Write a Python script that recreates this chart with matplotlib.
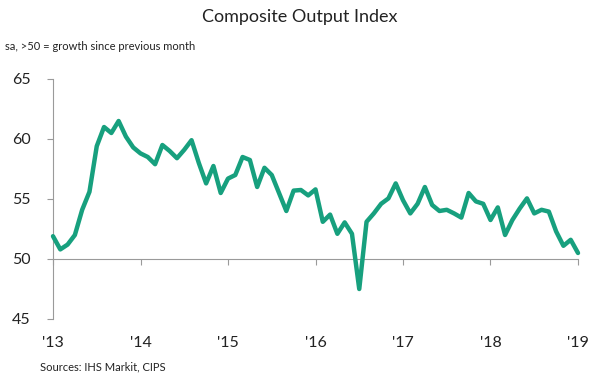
import matplotlib
matplotlib.use("Agg")
import matplotlib.pyplot as plt
import matplotlib.transforms as mtransforms
import numpy as np

plt.rcParams['font.family'] = ['Lato', 'DejaVu Sans']

# Monthly composite output index, Jan 2013 .. Jan 2019
values = [51.9, 50.8, 51.2, 52.0, 54.1, 55.6, 59.4, 61.0, 60.5, 61.5, 60.2, 59.3,
          58.8, 58.5, 57.9, 59.5, 59.0, 58.4, 59.1, 59.9, 58.0, 56.3, 57.75, 55.5,
          56.7, 57.0, 58.5, 58.25, 56.0, 57.6, 57.0, 55.5, 54.0, 55.7, 55.75, 55.3,
          55.8, 53.1, 53.7, 52.1, 53.05, 52.1, 47.5, 53.1, 53.8, 54.6, 55.05, 56.3,
          54.9, 53.8, 54.6, 56.0, 54.5, 54.0, 54.1, 53.8, 53.45, 55.5, 54.8, 54.6,
          53.25, 54.3, 52.0, 53.25, 54.2, 55.05, 53.8, 54.1, 53.95, 52.3, 51.1, 51.6,
          50.5]
year_labels = ["'13", "'14", "'15", "'16", "'17", "'18", "'19"]
y_ticks = [45, 50, 55, 60, 65]

title = "Composite Output Index"
subtitle = "sa, >50 = growth since previous month"
source = "Sources: IHS Markit, CIPS"

line_color = "#17a07e"
axis_color = "#9a9a9a"
text_color = "#222222"

fig = plt.figure(figsize=(6.0, 3.78), dpi=100)
fig.patch.set_facecolor("white")
ax = fig.add_axes([53/600, 1-319/378, (578-53)/600, (319-79)/378])

x = np.arange(len(values))
ax.plot(x, values, color=line_color, lw=3.2, solid_joinstyle='round',
        solid_capstyle='round', zorder=3, clip_on=False)

ax.set_xlim(0, 72)
ax.set_ylim(45, 65)

for s in ['top', 'right']:
    ax.spines[s].set_visible(False)
ax.spines['left'].set_color(axis_color)
ax.spines['left'].set_linewidth(0.8)
ax.spines['bottom'].set_position(('data', 50))
ax.spines['bottom'].set_color(axis_color)
ax.spines['bottom'].set_linewidth(0.8)

ax.set_yticks(y_ticks)
ax.set_yticklabels([str(v) for v in y_ticks])
ax.tick_params(axis='y', colors=axis_color, labelcolor=text_color, labelsize=11.5,
               length=4, width=0.8, pad=12)

year_pos = [12 * i for i in range(len(year_labels))]
ax.set_xticks(year_pos)
ax.set_xticklabels([])
ax.tick_params(axis='x', colors=axis_color, length=4, width=0.8, direction='out')

trans = mtransforms.blended_transform_factory(ax.transData, fig.transFigure)
for p, lab in zip(year_pos, year_labels):
    ax.text(p, 1-343/378, lab, transform=trans, ha='center', va='center',
            fontsize=11.5, color=text_color)

fig.text(0.5, 1-17/378, title, ha='center', va='center', fontsize=13, color=text_color)
fig.text(5/600, 1-47/378, subtitle, ha='left', va='center', fontsize=8, color=text_color)
fig.text(40/600, 1-367/378, source, ha='left', va='center', fontsize=8, color=text_color)

fig.savefig("out.png", dpi=100, facecolor="white")
